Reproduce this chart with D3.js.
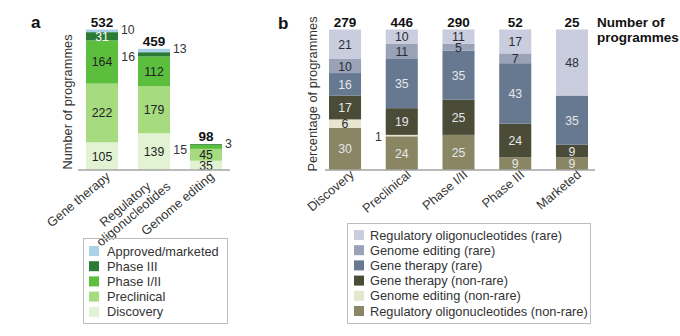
<!DOCTYPE html>
<html><head><meta charset="utf-8">
<script src="https://cdn.jsdelivr.net/npm/d3@7"></script>
<style>
html,body{margin:0;padding:0;background:#fff;}
svg{display:block;font-family:"Liberation Sans",Arial,sans-serif;}
</style></head>
<body>
<svg id="chart" width="680" height="336"></svg>
<script>
// ---------- Panel a data ----------
const catsA = ["Gene therapy", "Regulatory\noligonucleotides", "Genome editing"];
const stagesA = ["Discovery", "Preclinical", "Phase I/II", "Phase III", "Approved/marketed"];
const discoveryA = [105, 139, 35];
const preclinicalA = [222, 179, 45];
const phase12A = [164, 112, 15];
const phase3A = [31, 16, 3];
const approvedA = [10, 13, 0];
const totalsA = [532, 459, 98];
const colorsA = ["#e2f3d3", "#a7db80", "#5cbe3d", "#2b7b37", "#a9d1e8"];
const legendOrderA = ["Approved/marketed", "Phase III", "Phase I/II", "Preclinical", "Discovery"];

// ---------- Panel b data ----------
const catsB = ["Discovery", "Preclinical", "Phase I/II", "Phase III", "Marketed"];
const groupsB = ["Regulatory oligonucleotides (non-rare)", "Genome editing (non-rare)", "Gene therapy (non-rare)",
                 "Gene therapy (rare)", "Genome editing (rare)", "Regulatory oligonucleotides (rare)"];
const regNonRareB = [30, 24, 25, 9, 9];
const geNonRareB = [6, 1, 0, 0, 0];
const gtNonRareB = [17, 19, 25, 24, 9];
const gtRareB = [16, 35, 35, 43, 35];
const geRareB = [10, 11, 5, 7, 0];
const regRareB = [21, 10, 11, 17, 48];
const totalsB = [279, 446, 290, 52, 25];
const colorsB = ["#8a8664", "#e6e5cf", "#4b4c37", "#677891", "#99a2b6", "#c9cddd"];
const lightTextB = [true, false, true, true, false, false];

const svg = d3.select("#chart");
const FS = 12.8;
const FSV = 12.3;

// ===== Panel a =====
const seriesA = [discoveryA, preclinicalA, phase12A, phase3A, approvedA];
const baseY = 170;
const xA = d3.scaleBand().domain(catsA).range([86, 222]).paddingInner(0.385).paddingOuter(0);
const yA = d3.scaleLinear().domain([0, 532]).range([baseY, 29.5]);

const gA = svg.append("g");
catsA.forEach((c, i) => {
  let cum = 0;
  const segs = seriesA.map((s, k) => { const y0 = cum; cum += s[i]; return {k, v: s[i], y0, y1: cum}; });
  gA.selectAll(null).data(segs.filter(d => d.v > 0)).join("rect")
    .attr("x", xA(c)).attr("width", xA.bandwidth())
    .attr("y", d => yA(d.y1)).attr("height", d => yA(d.y0) - yA(d.y1))
    .attr("fill", d => colorsA[d.k]);
  let side = 0;
  segs.slice().reverse().forEach(d => {
    if (d.v <= 0) return;
    const h = yA(d.y0) - yA(d.y1);
    const mid = (yA(d.y0) + yA(d.y1)) / 2;
    const t = gA.append("text").attr("font-size", FSV).attr("dominant-baseline", "central").text(d.v);
    if (h < 6) {
      if (side === 0) {
        t.attr("x", xA(c) + xA.bandwidth() + 3).attr("y", mid - 1).attr("text-anchor", "start").attr("fill", "#333");
      } else {
        t.attr("x", xA(c) - 3).attr("y", mid + 3).attr("text-anchor", "end").attr("fill", "#333");
      }
      side++;
    } else {
      t.attr("x", xA(c) + xA.bandwidth() / 2).attr("y", mid + 0.5).attr("text-anchor", "middle")
        .attr("fill", d.k === 3 ? "#fff" : "#222");
    }
  });
  gA.append("text").attr("x", xA(c) + xA.bandwidth() / 2).attr("y", yA(totalsA[i]) - 3)
    .attr("text-anchor", "middle").attr("font-size", 13.5).attr("font-weight", "bold").attr("fill", "#111")
    .text(totalsA[i]);
});
gA.append("line").attr("x1", 78).attr("x2", 230).attr("y1", baseY).attr("y2", baseY)
  .attr("stroke", "#a5a5a5").attr("stroke-width", 1.5);

function catLabel(g, text, x, y) {
  const lines = text.split("\n");
  const grp = g.append("g").attr("transform", `translate(${x},${y}) rotate(-40)`);
  const ts = lines.map((l, i) => grp.append("text").attr("y", i * 13).attr("text-anchor", "middle")
    .attr("font-size", FS).attr("fill", "#333").text(l));
  const w = d3.max(ts, t => t.node().getComputedTextLength());
  ts.forEach(t => t.attr("x", -w / 2));
}
catsA.forEach(c => catLabel(gA, c, xA(c) + xA.bandwidth() / 2 + 9, 178));

gA.append("text").attr("transform", `translate(72,102) rotate(-90)`).attr("text-anchor", "middle")
  .attr("font-size", FS).attr("fill", "#333").text("Number of programmes");
gA.append("text").attr("x", 31).attr("y", 28).attr("font-size", 17).attr("font-weight", "bold").attr("fill", "#111").text("a");

// legend a
gA.append("rect").attr("x", 83.5).attr("y", 238.5).attr("width", 144).attr("height", 85)
  .attr("fill", "none").attr("stroke", "#bdbdbd").attr("stroke-width", 1);
legendOrderA.forEach((name, i) => {
  const k = stagesA.indexOf(name);
  const cy = 251 + i * 15.2;
  gA.append("rect").attr("x", 89).attr("y", cy - 5).attr("width", 10).attr("height", 10).attr("fill", colorsA[k]);
  gA.append("text").attr("x", 107).attr("y", cy).attr("dominant-baseline", "central")
    .attr("font-size", FS).attr("fill", "#333").text(name);
});

// ===== Panel b =====
const seriesB = [regNonRareB, geNonRareB, gtNonRareB, gtRareB, geRareB, regRareB];
const xB = d3.scaleBand().domain(catsB).range([329, 588]).paddingInner(0.435).paddingOuter(0);
const yB = d3.scaleLinear().domain([0, 100]).range([baseY, 29.5]);
const gB = svg.append("g");
catsB.forEach((c, i) => {
  let cum = 0;
  const segs = seriesB.map((s, k) => { const y0 = cum; cum += s[i]; return {k, v: s[i], y0, y1: Math.min(cum, 100)}; });
  gB.selectAll(null).data(segs.filter(d => d.v > 0)).join("rect")
    .attr("x", xB(c)).attr("width", xB.bandwidth())
    .attr("y", d => yB(d.y1)).attr("height", d => Math.max(0, yB(d.y0) - yB(d.y1)))
    .attr("fill", d => colorsB[d.k]);
  segs.forEach(d => {
    if (d.v <= 0) return;
    const h = yB(d.y0) - yB(d.y1);
    const mid = (yB(d.y0) + yB(d.y1)) / 2;
    const t = gB.append("text").attr("font-size", FSV).attr("dominant-baseline", "central").text(d.v);
    if (h < 3) {
      t.attr("x", xB(c) - 4).attr("y", mid + 1).attr("text-anchor", "end").attr("fill", "#333");
    } else {
      t.attr("x", xB(c) + xB.bandwidth() / 2).attr("y", mid + 0.5).attr("text-anchor", "middle")
        .attr("fill", lightTextB[d.k] ? "#e4e6ea" : "#2a2d35");
    }
  });
  gB.append("text").attr("x", xB(c) + xB.bandwidth() / 2).attr("y", 27)
    .attr("text-anchor", "middle").attr("font-size", 13.5).attr("font-weight", "bold").attr("fill", "#111")
    .text(totalsB[i]);
  catLabel(gB, c, xB(c) + xB.bandwidth() / 2 + 10, 176);
});
gB.append("line").attr("x1", 325).attr("x2", 595).attr("y1", baseY).attr("y2", baseY)
  .attr("stroke", "#a5a5a5").attr("stroke-width", 1.5);
gB.append("text").attr("x", 597).attr("y", 27).attr("font-size", 13.5).attr("font-weight", "bold").attr("fill", "#111").text("Number of");
gB.append("text").attr("x", 597).attr("y", 42).attr("font-size", 13.5).attr("font-weight", "bold").attr("fill", "#111").text("programmes");
gB.append("text").attr("transform", `translate(317,94) rotate(-90)`).attr("text-anchor", "middle")
  .attr("font-size", FS).attr("fill", "#333").text("Percentage of programmes");
gB.append("text").attr("x", 278).attr("y", 29).attr("font-size", 17).attr("font-weight", "bold").attr("fill", "#111").text("b");

gB.append("rect").attr("x", 347.5).attr("y", 223.5).attr("width", 243).attr("height", 100)
  .attr("fill", "none").attr("stroke", "#bdbdbd").attr("stroke-width", 1);
groupsB.slice().reverse().forEach((name, i) => {
  const k = groupsB.indexOf(name);
  const cy = 235 + i * 15.2;
  gB.append("rect").attr("x", 354).attr("y", cy - 5).attr("width", 10).attr("height", 10).attr("fill", colorsB[k]);
  gB.append("text").attr("x", 370).attr("y", cy).attr("dominant-baseline", "central")
    .attr("font-size", FS).attr("fill", "#333").text(name);
});
</script>
</body></html>
